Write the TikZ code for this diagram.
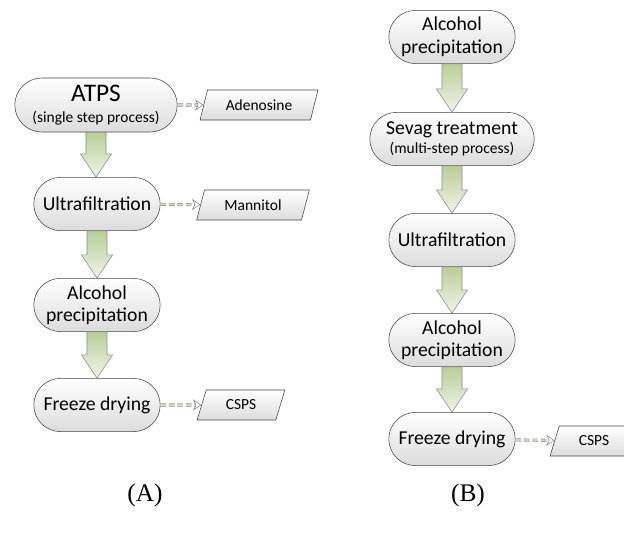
\documentclass[tikz,border=0pt]{standalone}
\usepackage{fontspec}
\setmainfont{Carlito}
\newfontfamily\labelfont{Liberation Serif}
\usetikzlibrary{shapes.misc,shapes.geometric,arrows.meta,calc}

\definecolor{edgegray}{RGB}{70,70,70}
\definecolor{shadegray}{RGB}{220,220,220}
\definecolor{leafgreen}{RGB}{186,206,152}
\definecolor{palegreen}{RGB}{240,244,232}

\tikzset{
  stage/.style={rounded rectangle, draw=edgegray, top color=white, bottom color=shadegray,
    align=center, minimum height=1.33cm, minimum width=3.3cm, inner sep=2pt,
    font=\fontsize{14}{16}\selectfont},
  product/.style={trapezium, trapezium left angle=75, trapezium right angle=105,
    trapezium stretches=true, draw=edgegray, top color=white, bottom color=shadegray,
    minimum height=0.75cm, font=\fontsize{11}{13}\selectfont},
  sidearrow/.style={draw=black!45, double=leafgreen!70, double distance=1.4pt,
    dash pattern=on 4pt off 2pt, -{Stealth[open,length=6pt,width=8pt]}},
  flow/.style={draw=black!45, top color=leafgreen, bottom color=palegreen},
  caption/.style={font=\labelfont\fontsize{18}{20}\selectfont},
}
% block arrow from the bottom of one stage to the top of the next
\newcommand{\flowarrow}[2]{%
  \path[flow] let \p1=(#1.south), \p2=(#2.north) in
    (\x1-0.25cm,\y1) -- (\x1+0.25cm,\y1) -- (\x1+0.25cm,\y2+0.58cm) -- (\x1+0.39cm,\y2+0.58cm)
    -- (\x1,\y2) -- (\x1-0.39cm,\y2+0.58cm) -- (\x1-0.25cm,\y2+0.58cm) -- cycle;}

\begin{document}
\begin{tikzpicture}[x=0.025cm,y=-0.025cm]
  \useasboundingbox (0,0) rectangle (624,537);
  % (A)
  \node[stage, minimum width=4.2cm, minimum height=1.35cm] (atps) at (96,105)
    {{\fontsize{18}{19}\selectfont ATPS}\\[-1pt]{\fontsize{11}{12}\selectfont (single step process)}};
  \node[stage] (ultraA) at (97,204) {Ultrafiltration};
  \node[stage] (alcA) at (97,305) {Alcohol\\precipitation};
  \node[stage] (freezeA) at (97,405) {Freeze drying};
  \node[product, minimum width=2.95cm] (aden) at (259,105) {Adenosine};
  \node[product, minimum width=2.83cm] (mann) at (253,205) {Mannitol};
  \node[product, minimum width=2.2cm] (cspsA) at (241,405) {CSPS};
  \flowarrow{atps}{ultraA}
  \flowarrow{ultraA}{alcA}
  \flowarrow{alcA}{freezeA}
  \draw[sidearrow] (atps) -- (aden);
  \draw[sidearrow] (ultraA) -- (mann);
  \draw[sidearrow] (freezeA) -- (cspsA);
  \node[caption] (capA) at (145,495) {(A)};
  % (B)
  \node[stage] (alcB) at (452,37) {Alcohol\\precipitation};
  \node[stage, minimum width=4.25cm] (sevag) at (452,139)
    {Sevag treatment\\[-2pt]{\fontsize{11}{12}\selectfont (multi-step process)}};
  \node[stage] (ultraB) at (452,240) {Ultrafiltration};
  \node[stage] (alcBB) at (452,340) {Alcohol\\precipitation};
  \node[stage] (freezeB) at (452,439) {Freeze drying};
  \node[product, minimum width=2.2cm] (cspsB) at (594,441) {CSPS};
  \flowarrow{alcB}{sevag}
  \flowarrow{sevag}{ultraB}
  \flowarrow{ultraB}{alcBB}
  \flowarrow{alcBB}{freezeB}
  \draw[sidearrow] (freezeB) -- (cspsB);
  \node[caption] (capB) at (468,495) {(B)};
\end{tikzpicture}
\end{document}
